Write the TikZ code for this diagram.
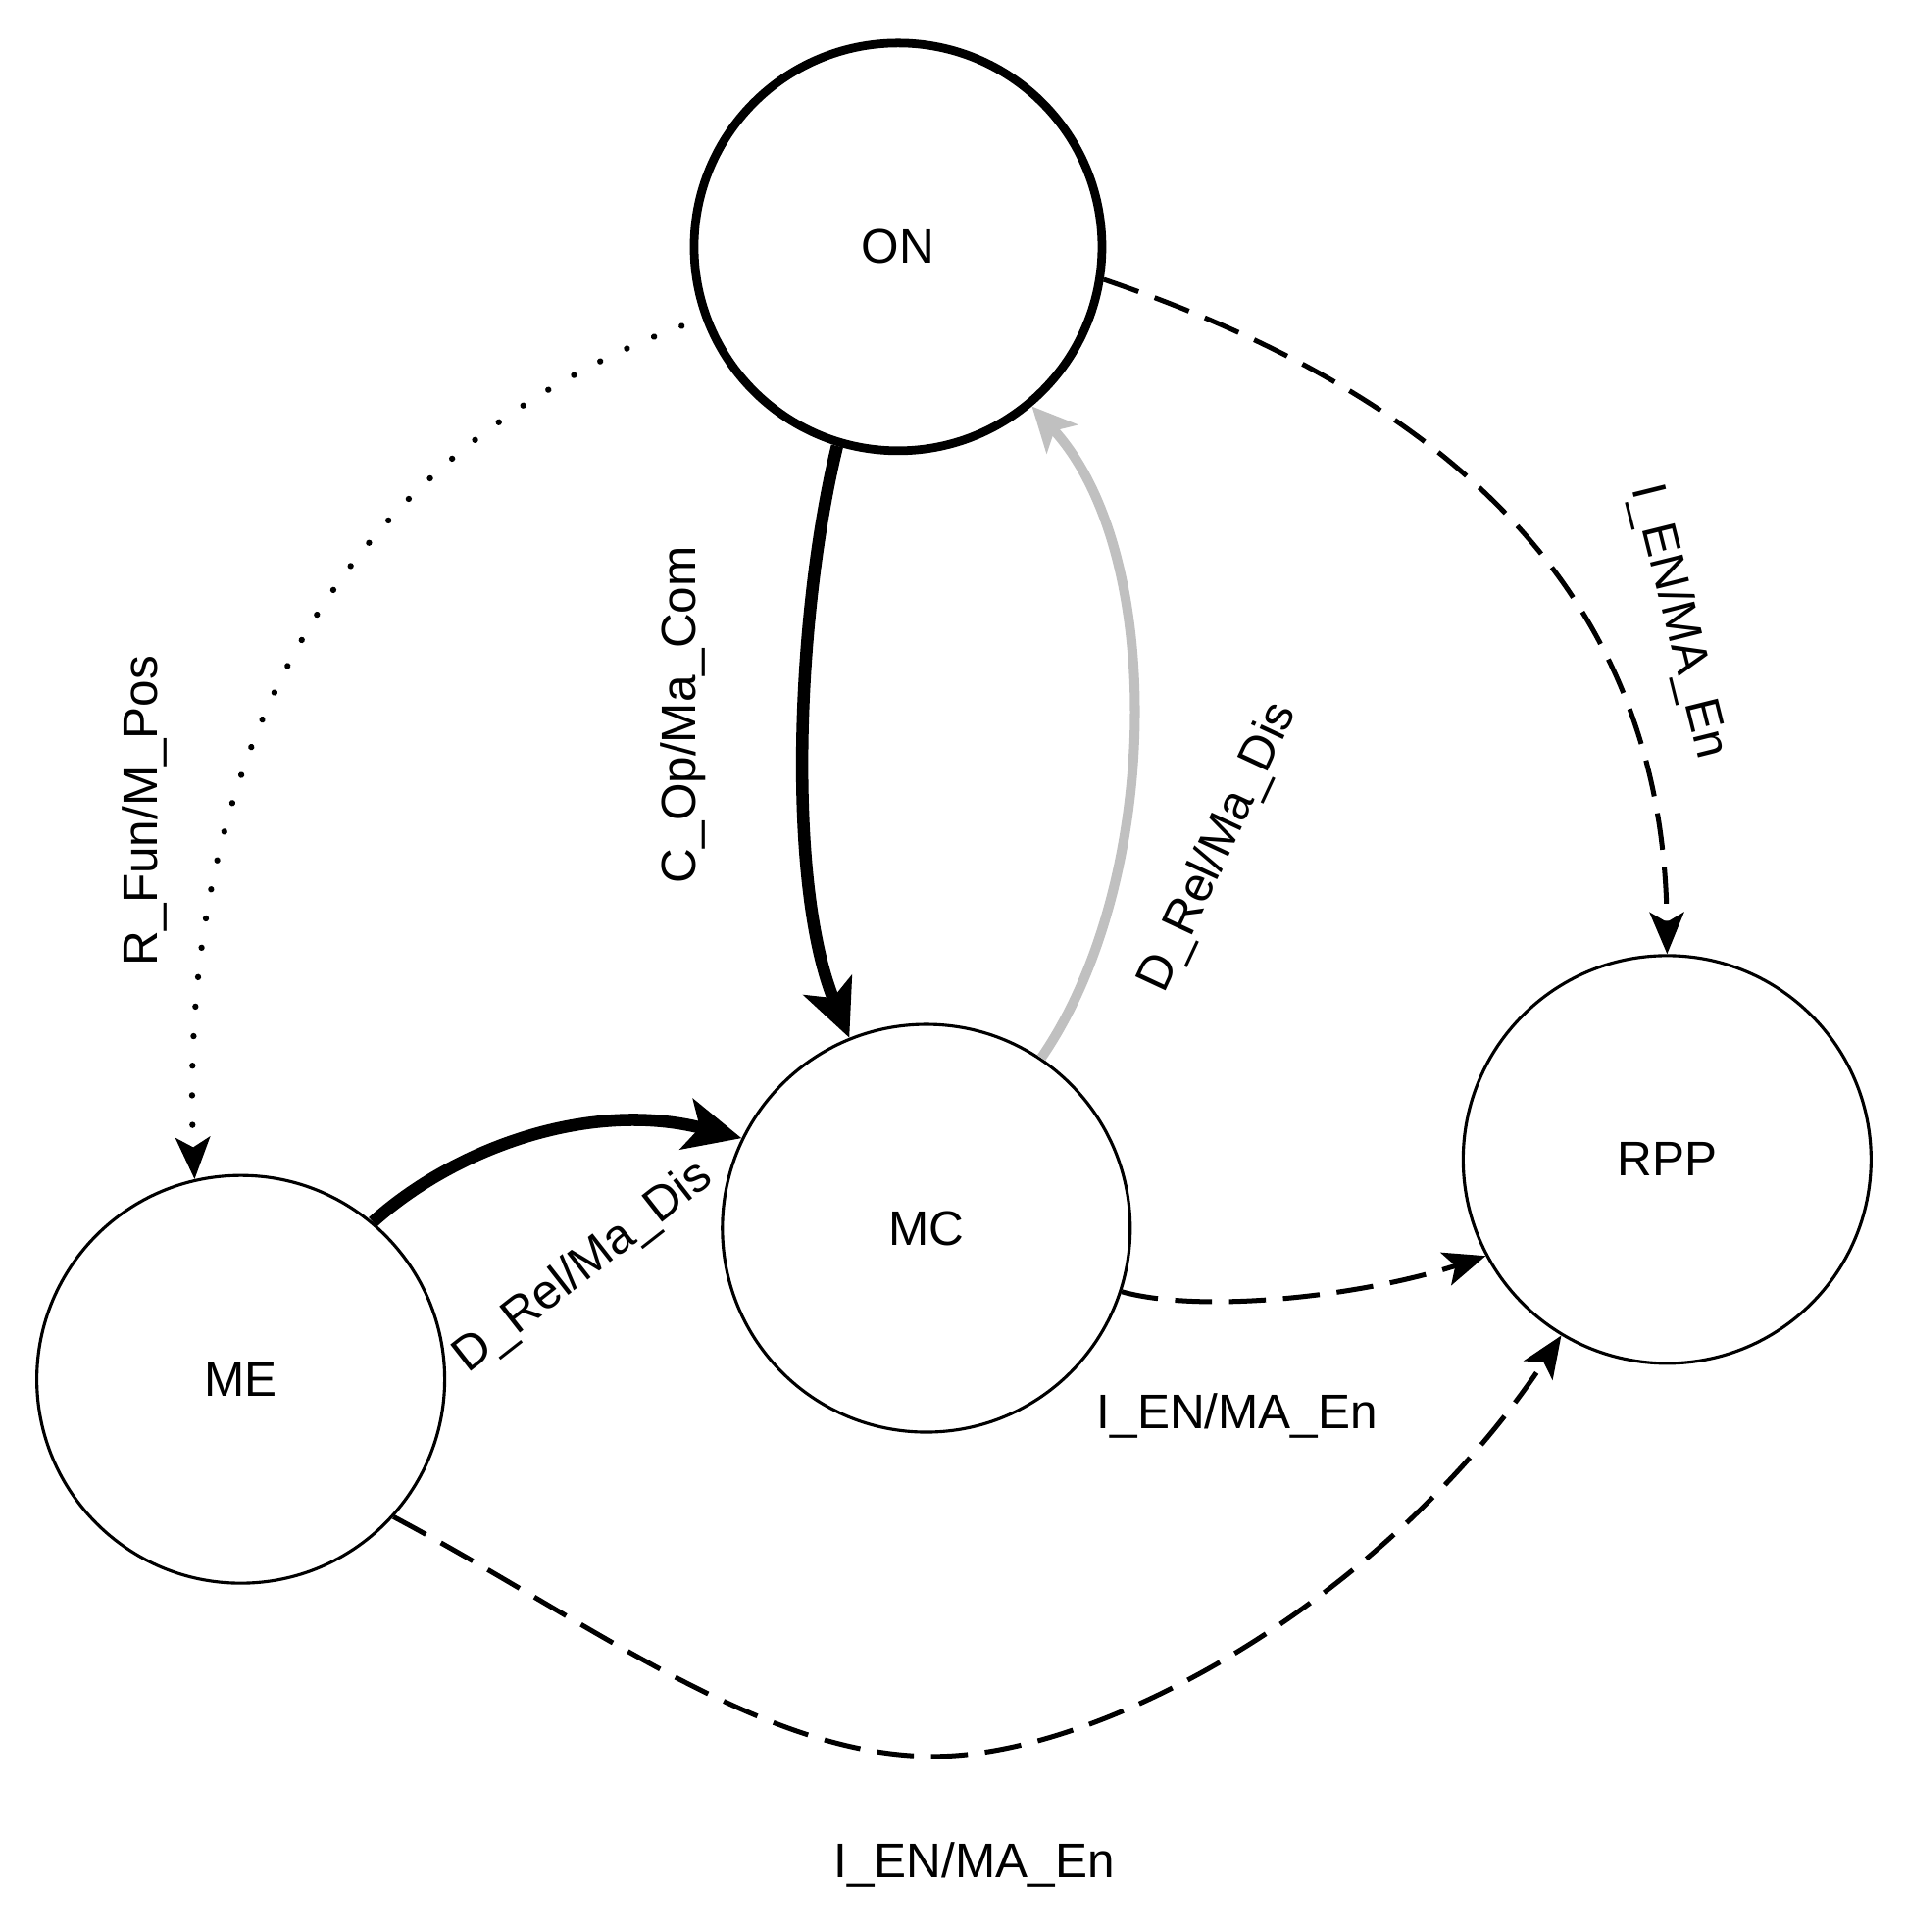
\documentclass[tikz,border=0pt]{standalone}
\usepackage{fontspec}
\setmainfont{Liberation Sans}
\usetikzlibrary{arrows.meta}
\begin{document}
\begin{tikzpicture}[x=1pt,y=-1pt,
  state/.style={circle,draw,line width=2.5pt,minimum size=332pt,inner sep=0pt,font=\fontsize{39.5}{47}\selectfont},
  boldstate/.style={state,line width=7pt},
  lbl/.style={font=\fontsize{39.5}{47}\selectfont,inner sep=0pt},
  bigtip/.style={-{Stealth[length=46pt,width=42pt,inset=11pt]}},
  smalltip/.style={-{Stealth[length=34pt,width=28pt,inset=8pt]}},
  thickedge/.style={line width=10pt,bigtip},
  grayedge/.style={line width=8pt,draw={rgb,255:red,192;green,192;blue,192},-{Stealth[length=36pt,width=34pt,inset=9pt]}},
  dashedge/.style={line width=4pt,dash pattern=on 30pt off 14pt,smalltip},
  dotedge/.style={line width=5pt,line cap=round,dash pattern=on 0.1pt off 24pt,smalltip}
]
\useasboundingbox (0,0) rectangle (1550,1573);

\node[boldstate] (ON) at (731,201) {ON};
\node[state] (MC) at (754,1000) {MC};
\node[state] (ME) at (196,1123) {ME};
\node[state] (RPP) at (1357,944) {RPP};

\coordinate (bot) at (760,1430);

\draw[thickedge] (ON.253) .. controls (648,500) and (640,720) .. (MC.112);
\draw[grayedge] (MC.56) .. controls (945,720) and (950,450) .. (ON.310);
\draw[dotedge,shorten <=18pt] (ON.200) .. controls (250,380) and (145,650) .. (ME.103);
\draw[dashedge] (ON.-9) .. controls (1200,330) and (1355,500) .. (RPP.90);
\draw[thickedge] (ME.50) .. controls (370,935) and (480,895) .. (MC.154);
\draw[dashedge] (MC.-18) .. controls (980,1070) and (1110,1055) .. (RPP.208);
\draw[dashedge] (ME.-42) .. controls (480,1320) and (620,1430) .. (bot) .. controls (900,1430) and (1130,1300) .. (RPP.239);

\node[lbl,rotate=90] (l1) at (556,582) {C\_Op/Ma\_Com};
\node[lbl,rotate=65] (l2) at (992,690) {D\_Rel/Ma\_Dis};
\node[lbl,rotate=90] (l3) at (118,660) {R\_Fun/M\_Pos};
\node[lbl,rotate=-76] (l4) at (1366,506) {I\_EN/MA\_En};
\node[lbl,rotate=38] (l5) at (475,1032) {D\_Rel/Ma\_Dis};
\node[lbl] (l6) at (1007,1153) {I\_EN/MA\_En};
\node[lbl] (l7) at (793,1518) {I\_EN/MA\_En};
\end{tikzpicture}
\end{document}
